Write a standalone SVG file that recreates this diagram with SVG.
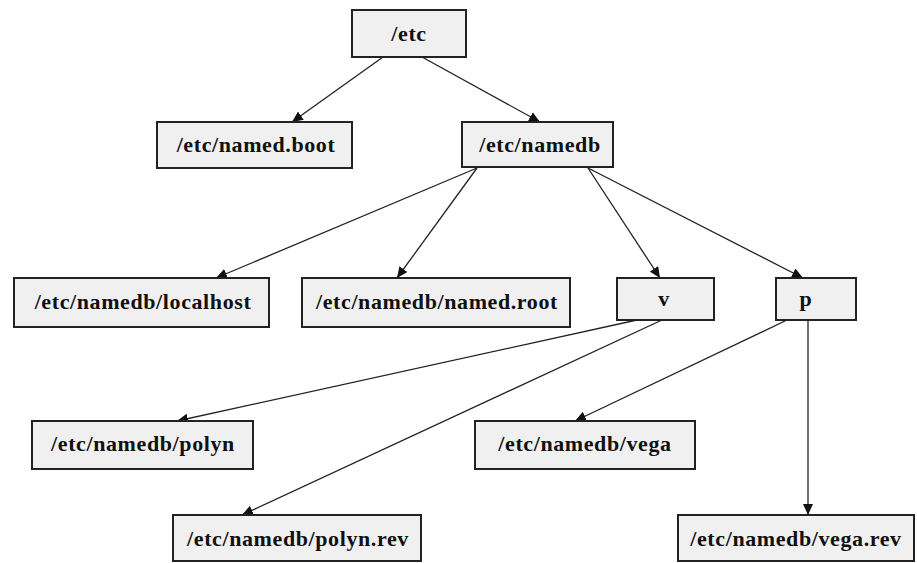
<svg xmlns="http://www.w3.org/2000/svg" width="917" height="563" viewBox="0 0 917 563">
<style>
.box{fill:#f0f0f0;stroke:#222;stroke-width:2}
.lbl{font-family:"Liberation Serif",serif;font-weight:bold;font-size:22px;letter-spacing:0.6px;fill:#111;text-anchor:middle}
.con line{stroke:#222;stroke-width:1.3;marker-end:url(#ah)}
</style>
<defs>
<marker id="ah" markerUnits="userSpaceOnUse" markerWidth="12" markerHeight="10" refX="11" refY="5" orient="auto">
<path d="M0,0 L11,5 L0,10 Z" fill="#111"/>
</marker>
</defs>
<rect width="917" height="563" fill="#fff"/>
<g id="connectors" class="con">
<line x1="383" y1="57" x2="292" y2="122"/>
<line x1="422" y1="57" x2="540" y2="122"/>
<line x1="477" y1="168" x2="216" y2="278"/>
<line x1="477" y1="168" x2="397" y2="278"/>
<line x1="588" y1="168" x2="660" y2="278"/>
<line x1="588" y1="168" x2="803" y2="278"/>
<line x1="637" y1="320" x2="177" y2="421"/>
<line x1="662" y1="320" x2="242" y2="515"/>
<line x1="787" y1="320" x2="575" y2="421"/>
<line x1="808" y1="320" x2="808" y2="515"/>
</g>
<g id="n-etc"><rect class="box" x="352" y="10" width="114" height="47"/><text class="lbl" x="409" y="41">/etc</text></g>
<g id="n-namedboot"><rect class="box" x="157" y="122" width="195" height="46"/><text class="lbl" x="256" y="152">/etc/named.boot</text></g>
<g id="n-namedb"><rect class="box" x="462" y="122" width="151" height="45"/><text class="lbl" x="540" y="152">/etc/namedb</text></g>
<g id="n-localhost"><rect class="box" x="14" y="278" width="255" height="49"/><text class="lbl" x="143" y="309">/etc/namedb/localhost</text></g>
<g id="n-namedroot"><rect class="box" x="302" y="278" width="268" height="49"/><text class="lbl" x="437" y="309">/etc/namedb/named.root</text></g>
<g id="n-v"><rect class="box" x="617" y="278" width="97" height="42"/><text class="lbl" x="664" y="306">v</text></g>
<g id="n-p"><rect class="box" x="776" y="278" width="80" height="42"/><text class="lbl" x="806" y="306">p</text></g>
<g id="n-polyn"><rect class="box" x="32" y="421" width="221" height="48"/><text class="lbl" x="143" y="451">/etc/namedb/polyn</text></g>
<g id="n-vega"><rect class="box" x="475" y="421" width="220" height="48"/><text class="lbl" x="585" y="451">/etc/namedb/vega</text></g>
<g id="n-polynrev"><rect class="box" x="173" y="515" width="248" height="46"/><text class="lbl" x="298" y="546">/etc/namedb/polyn.rev</text></g>
<g id="n-vegarev"><rect class="box" x="678" y="515" width="236" height="46"/><text class="lbl" x="796" y="546">/etc/namedb/vega.rev</text></g>
</svg>
